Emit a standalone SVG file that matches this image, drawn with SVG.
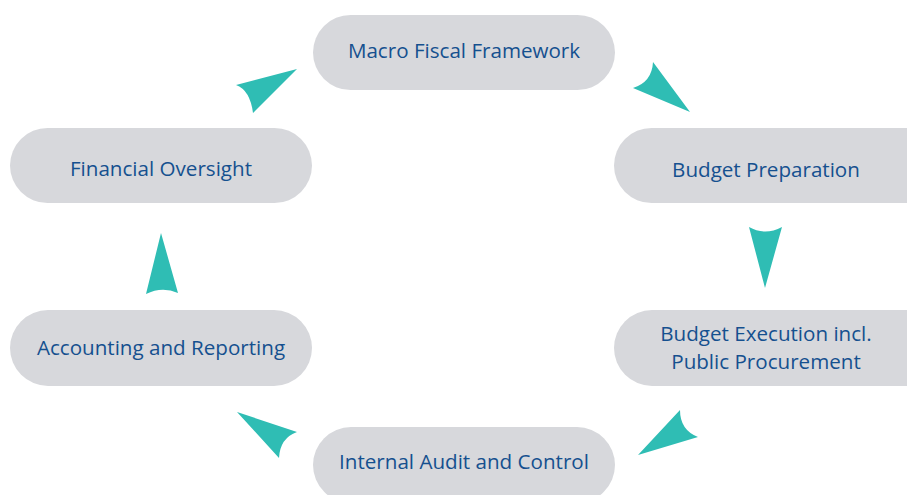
<svg xmlns="http://www.w3.org/2000/svg" width="907" height="495" viewBox="0 0 907 495">
<style>
.n rect{fill:#d7d8dc}
.n text{font-family:"Open Sans","Liberation Sans",sans-serif;font-size:20.6px;fill:#15508f;text-anchor:middle}
.c path{fill:#2fbdb4}
</style>
<rect width="907" height="495" fill="#ffffff"/>
<g id="macro" class="n"><rect x="313" y="15" width="302" height="75" rx="37.5"/><text x="464" y="58">Macro Fiscal Framework</text></g>
<g id="budget-prep" class="n"><rect x="614" y="128" width="330" height="75" rx="37.5"/><text x="766" y="177">Budget Preparation</text></g>
<g id="budget-exec" class="n"><rect x="614" y="310" width="330" height="76" rx="38"/><text x="766" y="341">Budget Execution incl.</text><text x="766" y="369">Public Procurement</text></g>
<g id="audit" class="n"><rect x="313" y="427" width="302" height="76" rx="38"/><text x="464" y="469">Internal Audit and Control</text></g>
<g id="accounting" class="n"><rect x="10" y="310" width="302" height="76" rx="38"/><text x="161" y="355">Accounting and Reporting</text></g>
<g id="oversight" class="n"><rect x="10" y="128" width="302" height="75" rx="37.5"/><text x="161" y="176">Financial Oversight</text></g>
<g id="connectors" class="c">
<path d="M297,69 L236,85 Q250,90 253,113 Z"/>
<path d="M690,112 L653,62 Q652,82 633,88 Z"/>
<path d="M765,288 L749,227 Q765,236 782,227 Z"/>
<path d="M638,455 L680,410 Q680,430 698,437 Z"/>
<path d="M237,412 L297,432 Q280,438 279,458 Z"/>
<path d="M161,233 L146,294 Q162,286 178,293 Z"/>
</g>
</svg>
